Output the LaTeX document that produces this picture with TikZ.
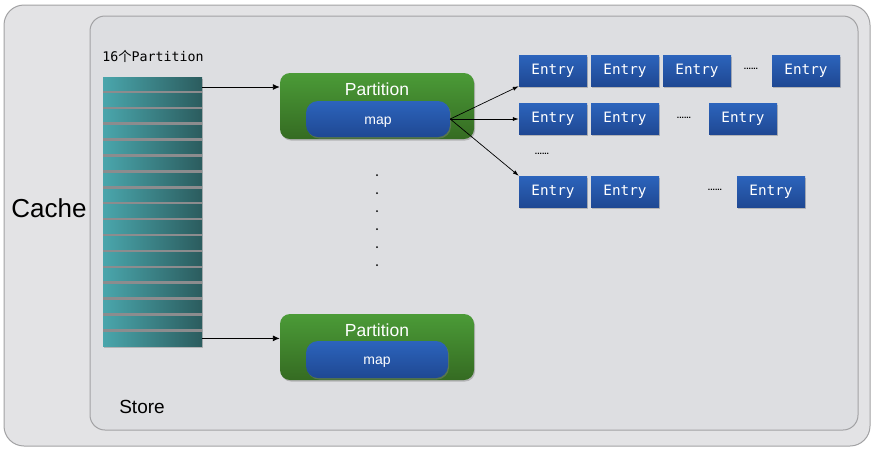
\documentclass[tikz,border=0pt]{standalone}
\usepackage{fontspec}
\setmainfont{Liberation Sans}
\newfontfamily\monof{DejaVu Sans Mono}
\newfontfamily\cjk{Noto Sans CJK SC}
\usetikzlibrary{shadows,arrows.meta}
\definecolor{outerbg}{HTML}{E3E3E5}
\definecolor{innerbg}{HTML}{DDDEE1}
\definecolor{frame}{HTML}{A2A2A4}
\definecolor{gtop}{HTML}{4B9B37}
\definecolor{gbot}{HTML}{356B22}
\definecolor{btop}{HTML}{2C64BC}
\definecolor{bbot}{HTML}{1F4893}
\definecolor{sleft}{HTML}{4AA6AC}
\definecolor{sright}{HTML}{2B5C5E}
\definecolor{sgap}{HTML}{8C8C8E}
\tikzset{
  shad/.style={drop shadow={opacity=0.45,shadow xshift=1pt,shadow yshift=-1.5pt}},
  stack/.style={rectangle,inner sep=0pt,minimum width=99pt,minimum height=268.9pt,left color=sleft,right color=sright,draw=none,shad},
  stripe/.style={rectangle,inner sep=0pt,minimum width=99pt,minimum height=13.5pt,draw=none},
  partbox/.style={rectangle,rounded corners=10pt,inner sep=0pt,minimum width=194pt,minimum height=66pt,top color=gtop,bottom color=gbot,draw=none,shad},
  mapbox/.style={rectangle,rounded corners=12pt,inner sep=0pt,minimum width=144pt,minimum height=36pt,top color=btop,bottom color=bbot,draw=none,shad},
  maptext/.style={text=white,font=\fontsize{14}{16}\selectfont,inner sep=0pt},
  entry/.style={rectangle,inner sep=0pt,minimum width=68pt,minimum height=31pt,top color=btop,bottom color=bbot,draw=none,shad,text=white,font=\monof\fontsize{14.3}{16}\selectfont},
  ptitle/.style={text=white,font=\fontsize{17.5}{19}\selectfont,inner sep=0pt},
  edots/.style={font=\bfseries\fontsize{8.5}{9}\selectfont,inner sep=0pt},
  arr/.style={-{Latex[length=7pt,width=6pt]},line width=0.9pt},
  sarr/.style={-{Latex[length=6pt,width=4pt]},line width=0.7pt}
}
\begin{document}
\begin{tikzpicture}[x=1pt,y=-1pt]
\useasboundingbox[fill=white] (0,0) rectangle (876,451);
\node[draw=frame,line width=1pt,fill=outerbg,rounded corners=20pt,minimum width=866pt,minimum height=441pt,inner sep=0pt] (cache) at (437,225.5) {};
\node[draw=frame,line width=1pt,fill=innerbg,rounded corners=15pt,minimum width=768pt,minimum height=414pt,inner sep=0pt] (store) at (474,223) {};
\node[font=\fontsize{26}{28}\selectfont,inner sep=0pt] (cachelbl) at (49,208) {Cache};
\node[font=\fontsize{19}{21}\selectfont,inner sep=0pt] (storelbl) at (142,407) {Store};
\node[font=\monof\fontsize{13.3}{15}\selectfont,inner sep=0pt] (plbl) at (153,56) {16{\cjk 个}Partition};
\node[stack] (stk) at (152.5,211.7) {};
\foreach \i in {1,...,16} {
  \fill[sgap] (103,{90.6+15.9*(\i-1)}) rectangle (202,{93.1+15.9*(\i-1)});
}
\foreach \i in {1,...,17} {
  \node[stripe] (s\i) at (152.5,{84+15.9*(\i-1)}) {};
}
\node[partbox] (p1) at (377,106) {};
\node[ptitle] (p1t) at (377,89) {Partition};
\node[mapbox] (m1) at (378,119) {};
\node[maptext] (m1t) at (378,122) {map};
\node[partbox] (p2) at (377,347) {};
\node[ptitle] (p2t) at (377,330) {Partition};
\node[mapbox,minimum width=142pt,minimum height=37pt] (m2) at (377,359.5) {};
\node[maptext] (m2t) at (377,362.5) {map};
\foreach \k in {0,...,5} {
  \fill (377,{175+18*\k}) circle (1pt);
}
\node[entry] (e11) at (553,70.5) {Entry};
\node[entry] (e12) at (625,70.5) {Entry};
\node[entry] (e13) at (697,70.5) {Entry};
\node[edots] (d1) at (751,69) {......};
\node[entry] (e14) at (806,70.5) {Entry};
\node[entry] (e21) at (553,119) {Entry};
\node[entry] (e22) at (625,119) {Entry};
\node[edots] (d2) at (684,118) {......};
\node[entry] (e23) at (743,119) {Entry};
\node[edots] (d3) at (542,154) {......};
\node[entry] (e41) at (553,191.5) {Entry};
\node[entry] (e42) at (625,191.5) {Entry};
\node[edots] (d4) at (715,190) {......};
\node[entry] (e43) at (771,191.5) {Entry};
\draw[arr] ([yshift=-3pt]s1.east) -- ([yshift=-3pt]s1.east -| p1.west);
\draw[arr] (s17.east) -- (s17.east -| p2.west);
\draw[sarr] (m1.east) -- (e11.south west);
\draw[sarr] (m1.east) -- (e21.west);
\draw[sarr] (m1.east) -- (e41.north west);
\end{tikzpicture}
\end{document}
